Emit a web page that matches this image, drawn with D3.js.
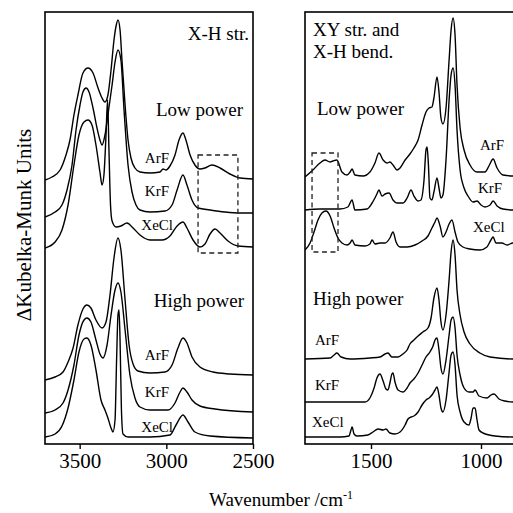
<!DOCTYPE html>
<html>
<head>
<meta charset="utf-8">
<script src="https://cdn.jsdelivr.net/npm/d3@7"></script>
<style>
  body { margin: 0; background: #fff; }
  svg { display: block; }
  .tick text { font-family: "Liberation Serif", "Times New Roman", serif; font-size: 21px; }
</style>
</head>
<body>
<div id="chart"></div>
<script>
// ---- data: [wavenumber, dKM (arb.)] ----
// X-H stretch region, low power
var lowArF_XH = [[3700,264],[3660,267],[3613,274],[3579,289],[3556,304],[3533,329],[3510,349],[3481,371],[3452,376],[3423,371],[3394,356],[3371,346],[3354,342],[3337,349],[3319,374],[3302,404],[3290,418],[3279,424],[3267,414],[3256,384],[3238,339],[3221,304],[3204,286],[3181,276],[3152,272],[3094,271],[3037,272],[3019,275],[3002,274],[2979,278],[2950,289],[2927,304],[2904,311],[2887,304],[2863,289],[2835,279],[2806,275],[2777,276],[2737,279],[2690,276],[2633,270],[2575,266],[2500,265]];
var lowKrF_XH = [[3700,227],[3642,232],[3602,239],[3573,254],[3544,279],[3521,314],[3498,339],[3481,352],[3463,356],[3446,352],[3423,336],[3400,316],[3383,304],[3371,299],[3354,309],[3337,329],[3313,359],[3296,382],[3279,394],[3262,384],[3244,334],[3221,279],[3198,252],[3175,239],[3152,234],[3094,232],[3008,233],[2967,239],[2938,254],[2904,269],[2881,259],[2852,244],[2817,236],[2748,234],[2662,232],[2575,231],[2500,231]];
var lowXeCl_XH = [[3700,196],[3642,202],[3602,214],[3567,239],[3533,279],[3504,309],[3475,322],[3452,324],[3429,319],[3406,299],[3383,272],[3371,259],[3360,269],[3348,309],[3339,344],[3331,294],[3322,239],[3313,223],[3290,217],[3262,218],[3227,221],[3192,216],[3152,209],[3094,204],[3025,204],[2979,208],[2938,218],[2904,222],[2881,216],[2846,204],[2806,197],[2777,200],[2748,210],[2719,215],[2690,211],[2644,203],[2587,198],[2500,197]];
// X-H stretch region, high power
var highArF_XH = [[3700,64],[3642,67],[3596,72],[3567,82],[3538,96],[3510,119],[3481,135],[3458,139],[3435,136],[3406,124],[3371,116],[3348,122],[3325,149],[3302,186],[3279,206],[3262,194],[3238,144],[3215,99],[3192,80],[3164,73],[3094,71],[3008,72],[2967,79],[2933,96],[2904,106],[2881,101],[2852,87],[2806,77],[2731,72],[2633,70],[2500,69]];
var highKrF_XH = [[3700,31],[3642,34],[3596,41],[3567,54],[3533,79],[3504,109],[3475,124],[3458,126],[3435,122],[3406,104],[3383,90],[3365,86],[3342,99],[3319,129],[3296,154],[3279,161],[3262,152],[3238,114],[3210,69],[3181,46],[3152,37],[3094,34],[2990,34],[2950,41],[2921,52],[2904,56],[2881,52],[2852,44],[2806,38],[2719,35],[2500,32]];
var highXeCl_XH = [[3700,7],[3642,10],[3602,18],[3567,36],[3533,64],[3504,92],[3475,105],[3458,106],[3435,99],[3406,74],[3377,44],[3354,34],[3337,26],[3319,16],[3308,12],[3296,24],[3287,84],[3279,129],[3273,134],[3267,104],[3259,34],[3250,10],[3221,7],[3094,7],[2979,9],[2944,19],[2904,29],[2875,22],[2835,12],[2748,8],[2500,6]];

// XY stretch / X-H bend region, low power
var lowArF_XY = [[1800,267],[1764,274],[1732,281],[1709,284],[1686,282],[1673,283],[1655,284],[1632,272],[1609,269],[1595,272],[1586,275],[1573,269],[1536,268],[1505,272],[1482,281],[1464,291],[1445,284],[1427,281],[1414,282],[1400,279],[1382,274],[1368,276],[1345,284],[1323,290],[1305,296],[1286,304],[1268,319],[1250,332],[1236,336],[1223,337],[1214,346],[1200,367],[1191,352],[1182,326],[1173,320],[1159,336],[1145,384],[1136,414],[1127,426],[1118,409],[1109,359],[1095,316],[1077,294],[1050,279],[1018,272],[982,272],[964,278],[945,285],[927,276],[900,269],[855,268],[800,268]];
var lowKrF_XY = [[1800,234],[1732,235],[1673,235],[1641,235],[1605,237],[1586,244],[1573,234],[1518,235],[1495,241],[1473,250],[1464,254],[1450,248],[1436,250],[1418,251],[1400,244],[1382,241],[1355,241],[1336,246],[1318,254],[1305,248],[1286,243],[1273,244],[1259,264],[1250,294],[1245,297],[1239,279],[1232,246],[1223,244],[1214,252],[1200,266],[1191,256],[1182,246],[1173,249],[1159,284],[1145,344],[1136,369],[1127,376],[1118,359],[1109,314],[1095,274],[1077,256],[1059,248],[1036,242],[1018,243],[1000,239],[982,237],[959,239],[945,243],[927,238],[900,235],[855,234],[800,234]];
var lowXeCl_XY = [[1800,194],[1777,201],[1759,212],[1741,224],[1723,231],[1705,233],[1686,228],[1668,216],[1650,206],[1632,201],[1609,199],[1595,201],[1586,204],[1573,199],[1527,198],[1505,200],[1495,204],[1482,200],[1459,201],[1436,201],[1414,206],[1400,212],[1386,202],[1368,197],[1336,197],[1300,199],[1268,203],[1241,208],[1223,216],[1209,222],[1200,226],[1186,218],[1173,207],[1159,212],[1145,220],[1132,224],[1118,212],[1105,202],[1082,197],[1050,195],[1005,194],[973,197],[955,204],[945,207],[932,201],[905,201],[882,199],[855,201],[800,201]];
// XY stretch / X-H bend region, high power
var highArF_XY = [[1800,85],[1686,86],[1668,89],[1655,91],[1636,87],[1595,85],[1505,86],[1459,87],[1436,90],[1423,91],[1405,87],[1377,87],[1355,90],[1336,94],[1323,100],[1305,104],[1286,108],[1264,112],[1241,116],[1227,126],[1214,146],[1200,156],[1191,144],[1182,122],[1173,114],[1159,129],[1145,164],[1136,192],[1127,204],[1118,189],[1109,154],[1095,129],[1077,112],[1050,100],[1005,91],[959,87],[855,85],[800,85]];
var highKrF_XY = [[1800,42],[1641,42],[1527,42],[1505,46],[1486,56],[1473,66],[1459,70],[1445,63],[1432,55],[1423,54],[1414,61],[1405,70],[1400,71],[1391,62],[1377,54],[1355,52],[1336,56],[1323,61],[1305,65],[1286,71],[1268,79],[1250,87],[1232,92],[1218,98],[1209,104],[1200,106],[1191,94],[1182,76],[1173,70],[1159,84],[1145,109],[1136,124],[1127,127],[1118,116],[1109,89],[1095,69],[1077,56],[1055,52],[1036,52],[1027,54],[1009,48],[973,46],[955,49],[941,50],[918,45],[891,43],[855,42],[800,42]];
var highXeCl_XY = [[1800,7],[1641,7],[1600,8],[1591,14],[1586,17],[1577,10],[1564,8],[1514,9],[1491,12],[1468,15],[1445,14],[1432,15],[1414,11],[1391,10],[1368,12],[1345,19],[1332,25],[1318,27],[1305,28],[1286,32],[1268,39],[1250,44],[1236,46],[1223,49],[1209,54],[1200,57],[1191,49],[1182,36],[1173,32],[1159,44],[1145,72],[1136,89],[1127,92],[1118,79],[1109,49],[1095,32],[1077,22],[1055,19],[1045,26],[1036,36],[1027,36],[1018,24],[1009,14],[991,11],[936,8],[855,7],[800,7]];

var ticksXH = [3500, 3000, 2500];
var ticksXY = [1500, 1000];
var lasers = ["ArF", "KrF", "XeCl"];
// dashed boxes [w1, w2, y1, y2]
var boxXH = [2817, 2587, 191, 289];
var boxXY = [1768, 1650, 192, 291];

var svgWidth = 513, svgHeight = 513;
var plotTop = 12, plotBottom = 444;
var serif = '"Liberation Serif", "Times New Roman", serif';

var svg = d3.select("#chart").append("svg")
  .attr("width", svgWidth)
  .attr("height", svgHeight);

var yScale = d3.scaleLinear().domain([0, 432]).range([plotBottom, plotTop]);
var xL = d3.scaleLinear().domain([3700, 2500]).range([45, 253]);
var xR = d3.scaleLinear().domain([1800, 800]).range([305, 525]);

// clip regions
var defs = svg.append("defs");
defs.append("clipPath").attr("id", "clipL").append("rect")
  .attr("x", 45).attr("y", plotTop).attr("width", 208).attr("height", plotBottom - plotTop);
defs.append("clipPath").attr("id", "clipR").append("rect")
  .attr("x", 305).attr("y", plotTop).attr("width", 220).attr("height", plotBottom - plotTop);

function drawPanel(x, traces, clipId, box) {
  var line = d3.line()
    .x(d => x(d[0]))
    .y(d => yScale(d[1]))
    .curve(d3.curveMonotoneX);

  var g = svg.append("g").attr("clip-path", "url(#" + clipId + ")");
  traces.forEach(function(t) {
    g.append("path")
      .attr("d", line(t))
      .attr("fill", "none")
      .attr("stroke", "#000")
      .attr("stroke-width", 1.4)
      .attr("stroke-linejoin", "round");
  });

  g.append("rect")
    .attr("x", x(box[0]))
    .attr("y", yScale(box[3]))
    .attr("width", x(box[1]) - x(box[0]))
    .attr("height", yScale(box[2]) - yScale(box[3]))
    .attr("fill", "none")
    .attr("stroke", "#222")
    .attr("stroke-width", 1.3)
    .attr("stroke-dasharray", "5,3.5");
}

drawPanel(xL, [lowArF_XH, lowKrF_XH, lowXeCl_XH, highArF_XH, highKrF_XH, highXeCl_XH], "clipL", boxXH);
drawPanel(xR, [lowArF_XY, lowKrF_XY, lowXeCl_XY, highArF_XY, highKrF_XY, highXeCl_XY], "clipR", boxXY);

// frames
svg.append("rect")
  .attr("x", 45).attr("y", plotTop).attr("width", 208).attr("height", plotBottom - plotTop)
  .attr("fill", "none").attr("stroke", "#000").attr("stroke-width", 1.6);
svg.append("rect")
  .attr("x", 305).attr("y", plotTop).attr("width", 230).attr("height", plotBottom - plotTop)
  .attr("fill", "none").attr("stroke", "#000").attr("stroke-width", 1.6);

// axes
var axisL = svg.append("g")
  .attr("transform", `translate(0, ${plotBottom})`)
  .call(d3.axisBottom(xL).tickValues(ticksXH).tickFormat(d3.format("d"))
    .tickSize(5).tickSizeOuter(0).tickPadding(4));
var axisR = svg.append("g")
  .attr("transform", `translate(0, ${plotBottom})`)
  .call(d3.axisBottom(xR).tickValues(ticksXY).tickFormat(d3.format("d"))
    .tickSize(5).tickSizeOuter(0).tickPadding(4));
[axisL, axisR].forEach(function(a) {
  a.select(".domain").remove();
  a.selectAll("line").attr("stroke", "#000").attr("stroke-width", 1.4);
  a.selectAll("text").attr("fill", "#000");
});

// text helper
function label(x, y, txt, size, anchor) {
  return svg.append("text")
    .attr("x", x).attr("y", y)
    .attr("font-family", serif)
    .attr("font-size", size + "px")
    .attr("text-anchor", anchor || "start")
    .attr("fill", "#000")
    .text(txt);
}

// panel annotations
label(249, 40, "X-H str.", 19, "end");
label(243, 116, "Low power", 19, "end");
label(244, 307, "High power", 19, "end");
label(313, 36, "XY str. and", 19);
label(313, 58, "X-H bend.", 19);
label(317, 115, "Low power", 19);
label(313, 305, "High power", 19);

// laser labels
var lowXHy = [163, 196, 230], highXHy = [360, 397, 432];
var lowXYy = [150, 193, 232], highXYy = [345, 390, 427];
lasers.forEach(function(s, i) {
  label(i === 2 ? 173 : 169, lowXHy[i], s, 15, "end");
  label(i === 2 ? 173 : 169, highXHy[i], s, 15, "end");
  label(i === 2 ? 473 : (i === 0 ? 480 : 478), lowXYy[i], s, 15);
  label(i === 2 ? 312 : 315, highXYy[i], s, 15);
});

// axis titles
var xt = label(281, 506, "", 19, "middle");
xt.append("tspan").text("Wavenumber /cm");
xt.append("tspan").attr("dy", -7).attr("font-size", "12px").text("-1");

svg.append("text")
  .attr("transform", "translate(31, 225) rotate(-90)")
  .attr("font-family", serif)
  .attr("font-size", "21px")
  .attr("text-anchor", "middle")
  .attr("fill", "#000")
  .text("\u0394Kubelka-Munk Units");
</script>
</body>
</html>
